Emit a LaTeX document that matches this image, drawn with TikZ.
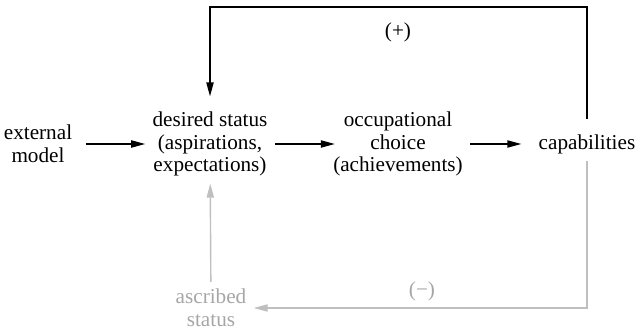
\documentclass[tikz,border=0pt]{standalone}
\usepackage{fontspec}
\setmainfont{Liberation Serif}
\usetikzlibrary{arrows.meta,positioning}

\begin{document}
\begin{tikzpicture}[x=0.5pt,y=-0.5pt,
		every node/.style={font=\fontsize{10.6}{11.3}\selectfont, align=center, inner sep=3.5pt},
		flow/.style={-{Triangle[length=7pt,width=3.6pt]}, line width=0.7pt},
		muted/.style={draw=black!25, text=black!35, color=black!25}]
	\useasboundingbox (0,0) rectangle (638,331);
	\node (ext) at (38,144) {external\\model};
	\node (des) at (210,144) {desired status\\(aspirations,\\expectations)};
	\node (occ) at (398,144) {occupational\\choice\\(achievements)};
	\node (cap) at (587,144) {capabilities};
	\node (asc) [text=black!35] at (211,308) {ascribed\\status};
	\coordinate (top) at (398,7);
	\node (plus) [below=4pt of top] {(+)};
	\node (minus) [text=black!35] at (422,291) {(−)};
	\draw [flow, shorten <=3pt] (ext) -- (des);
	\draw [flow, shorten >=-4.5pt] (des) -- (occ);
	\draw [flow, shorten >=5pt] (occ) -- (cap);
	\draw [flow, shorten <=4pt, shorten >=4pt] (cap.north) |- (top) -| (des.north);
	\draw [flow, muted] (cap.south) |- (asc.east);
	\draw [flow, muted] (asc) -- (des);
\end{tikzpicture}
\end{document}
